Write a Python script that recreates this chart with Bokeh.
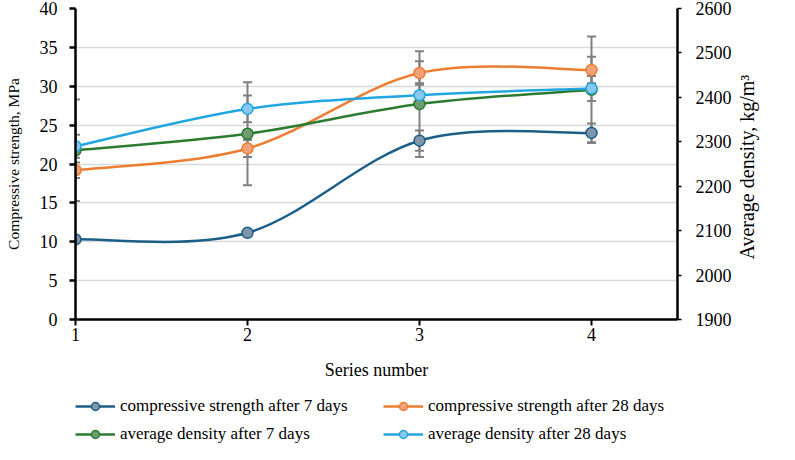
import math
from bokeh.plotting import figure
from bokeh.layouts import column
from bokeh.models import (Range1d, LinearAxis, FixedTicker, ColumnDataSource,
                          Whisker, TeeHead, Legend, LegendItem)
from bokeh.embed import file_html
from bokeh.resources import INLINE

# ---- data ----
series_x = [1, 2, 3, 4]
strength_7d = [10.3, 11.15, 23.0, 24.0]
strength_28d = [19.2, 22.0, 31.7, 32.1]
density_7d = [2281, 2318, 2385, 2417]
density_28d = [2290, 2374, 2405, 2420]
strength_7d_err = [0.4, 0.4, 1.3, 1.2]
strength_28d_err = [1.0, 1.1, 1.5, 1.7]
density_7d_err = [114, 116, 119, 120]
density_28d_err = [26, 30, 27, 28]

left_ticks = [0, 5, 10, 15, 20, 25, 30, 35, 40]
right_ticks = [1900, 2000, 2100, 2200, 2300, 2400, 2500, 2600]
x_ticks = [1, 2, 3, 4]

labels = ["compressive strength after 7 days", "compressive strength after 28 days",
          "average density after 7 days", "average density after 28 days"]
line_colors = ["#1c5f86", "#ed7d31", "#2b7b30", "#22a6e0"]
fill_colors = ["#7f95ab", "#f3a37a", "#6f9c6f", "#89c7ee"]

FONT = "Liberation Serif"
RIGHT_TITLE = "Average density, kg/m³"


def smooth_source(xs, ys, t=1.0 / 6.0):
    """Cubic Bezier segments through the points (Catmull-Rom style smoothing)."""
    n = len(xs)
    cols = {k: [] for k in ("x0", "y0", "x1", "y1", "cx0", "cy0", "cx1", "cy1")}
    for i in range(n - 1):
        a = max(i - 1, 0)
        d = min(i + 2, n - 1)
        cols["x0"].append(xs[i]); cols["y0"].append(ys[i])
        cols["x1"].append(xs[i + 1]); cols["y1"].append(ys[i + 1])
        cols["cx0"].append(xs[i] + (xs[i + 1] - xs[a]) * t)
        cols["cy0"].append(ys[i] + (ys[i + 1] - ys[a]) * t)
        cols["cx1"].append(xs[i + 1] - (xs[d] - xs[i]) * t)
        cols["cy1"].append(ys[i + 1] - (ys[d] - ys[i]) * t)
    return ColumnDataSource(cols)


p = figure(width=779, height=391, x_range=Range1d(1, 4.5), y_range=Range1d(0, 40),
           output_backend="svg", toolbar_location=None,
           min_border_left=75, min_border_right=102, min_border_top=8, min_border_bottom=72)
p.outline_line_color = None
p.background_fill_color = "white"
p.extra_y_ranges = {"dens": Range1d(1900, 2600)}

right_axis = LinearAxis(y_range_name="dens", ticker=FixedTicker(ticks=right_ticks))
p.add_layout(right_axis, "right")

p.xaxis.ticker = FixedTicker(ticks=x_ticks)
p.yaxis[0].ticker = FixedTicker(ticks=left_ticks)
p.xaxis.axis_label = "Series number"
p.yaxis[0].axis_label = "Compressive strength, MPa"

p.xgrid.visible = False
p.ygrid.ticker = FixedTicker(ticks=left_ticks)
p.ygrid.grid_line_color = "#d9d9d9"
p.ygrid.grid_line_width = 1.5

for ax in [p.xaxis[0], p.yaxis[0], right_axis]:
    ax.axis_line_color = "black"
    ax.axis_line_width = 2.5
    ax.major_tick_line_color = "black"
    ax.major_tick_line_width = 2.5
    ax.major_tick_in = 0
    ax.minor_tick_in = 0
    ax.minor_tick_out = 0
    ax.major_label_text_font = FONT
    ax.major_label_text_font_size = "18px"
    ax.major_label_text_color = "black"
    ax.axis_label_text_font = FONT
    ax.axis_label_text_font_style = "normal"
    ax.axis_label_text_color = "black"

p.yaxis[0].major_tick_out = 6
p.yaxis[0].major_label_standoff = 12
p.yaxis[0].axis_label_text_font_size = "15.5px"
p.yaxis[0].axis_label_standoff = 15

right_axis.major_tick_out = 4
right_axis.major_tick_line_width = 1.5
right_axis.major_label_standoff = 14
right_axis.axis_label_text_font_size = "20px"
right_axis.axis_label_standoff = 12
# title reads bottom-to-top as in the reference
try:
    right_axis.axis_label_align = "start"
    right_axis.axis_label_orientation = math.pi / 2
    right_axis.axis_label = "\u00a0" * 12 + RIGHT_TITLE
except AttributeError:
    right_axis.axis_label = RIGHT_TITLE

p.xaxis[0].major_tick_out = 6
p.xaxis[0].major_tick_line_width = 2
p.xaxis[0].major_label_standoff = 2
p.xaxis[0].axis_label_text_font_size = "18px"
p.xaxis[0].axis_label_standoff = 16

# ---- error bars ----
err_specs = [
    (strength_7d, strength_7d_err, "default"),
    (strength_28d, strength_28d_err, "default"),
    (density_7d, density_7d_err, "dens"),
    (density_28d, density_28d_err, "dens"),
]
for vals, errs, rng in err_specs:
    src = ColumnDataSource(dict(x=series_x,
                                lower=[v - e for v, e in zip(vals, errs)],
                                upper=[v + e for v, e in zip(vals, errs)]))
    w = Whisker(source=src, base="x", lower="lower", upper="upper",
                line_color="#808080", line_width=2,
                upper_head=TeeHead(size=9, line_color="#808080", line_width=2),
                lower_head=TeeHead(size=9, line_color="#808080", line_width=2))
    w.y_range_name = rng
    p.add_layout(w)

# ---- series ----
series = [
    (strength_7d, "default"),
    (strength_28d, "default"),
    (density_7d, "dens"),
    (density_28d, "dens"),
]
for i, (vals, rng) in enumerate(series):
    p.bezier(x0="x0", y0="y0", x1="x1", y1="y1", cx0="cx0", cy0="cy0",
             cx1="cx1", cy1="cy1", source=smooth_source(series_x, vals),
             line_color=line_colors[i], line_width=2.5, y_range_name=rng)
    p.scatter(series_x, vals, size=11, marker="circle", fill_color=fill_colors[i],
              line_color=line_colors[i], line_width=1.5, y_range_name=rng)

# ---- legend strip (separate figure under the chart) ----
lg = figure(width=779, height=53, x_range=Range1d(0, 1), y_range=Range1d(0, 1),
            output_backend="svg", toolbar_location=None,
            x_axis_type=None, y_axis_type=None,
            min_border_left=0, min_border_right=0, min_border_top=0, min_border_bottom=0)
lg.outline_line_color = None
lg.grid.visible = False
items = []
for i in range(4):
    # swatch renderers: their single point lies outside the strip's ranges, only the legend shows them
    off = ColumnDataSource(dict(x=[-5.0], y=[-5.0]))
    r_line = lg.line("x", "y", source=off, line_color=line_colors[i], line_width=2.5)
    r_mark = lg.scatter("x", "y", source=off, size=11, marker="circle",
                        fill_color=fill_colors[i], line_color=line_colors[i], line_width=1.5)
    items.append(LegendItem(label=labels[i], renderers=[r_line, r_mark]))

legend = Legend(items=items, orientation="horizontal", ncols=2,
                glyph_width=40, glyph_height=20, label_standoff=5, label_height=20,
                label_width=255, spacing=8, padding=0, margin=0,
                border_line_alpha=0, background_fill_alpha=0,
                label_text_font=FONT, label_text_font_size="17px",
                label_text_color="black", location=(0, 0))
lg.add_layout(legend)

layout = column(p, lg, spacing=0)
open("out.html", "w").write(file_html(layout, INLINE))
